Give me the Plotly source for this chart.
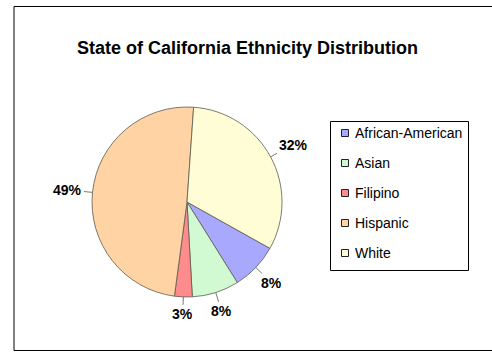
import math
import plotly.graph_objects as go

# Ethnicity shares (percent of state population)
categories = ["African-American", "Asian", "Filipino", "Hispanic", "White"]
shares = [8, 8, 3, 49, 32]
colors = ["#A8A8FF", "#D2FAD2", "#FF8C8C", "#FFD3A3", "#FFFDD6"]

title_text = "State of California Ethnicity Distribution"

# canvas and layout geometry (pixels)
W, H = 492, 352
cx, cy, r = 187, 202, 95          # pie centre / radius
white_start = 4                   # White slice begins just clockwise of 12 o'clock
label_font = dict(family="Liberation Sans, Arial, sans-serif", size=14, color="#000000", weight="bold")
legend_font = dict(family="Liberation Sans, Arial, sans-serif", size=14, color="#000000")
FONT = "Liberation Sans, Arial, sans-serif"


def px(x, y):
    """pixel position -> paper coordinates"""
    return x / W, 1 - y / H


total = sum(shares)
# slices run clockwise in legend order, ending with White
rotation = white_start + 360 * shares[-1] / total

fig = go.Figure()
fig.add_trace(go.Pie(
    labels=categories,
    values=shares,
    sort=False,
    direction="clockwise",
    rotation=rotation,
    marker=dict(colors=colors, line=dict(color="#5a5a50", width=0.8)),
    textinfo="none",
    hoverinfo="label+percent",
    showlegend=False,
    domain=dict(x=[(cx - r) / W, (cx + r) / W], y=[1 - (cy + r) / H, 1 - (cy - r) / H]),
))

annotations = []
shapes = []

# outside percentage labels with leader lines, placed along each slice's mid-angle
cum = 0
gap = 10
for cat, v in zip(categories, shares):
    mid = math.radians(rotation + 360 * (cum + v / 2) / total)
    cum += v
    txt = f"{round(100 * v / total)}%"
    w = label_font["size"] * (0.556 * (len(txt) - 1) + 0.889)
    h = label_font["size"] * 1.0
    s, c = math.sin(mid), -math.cos(mid)
    ex, ey = cx + r * s, cy + r * c
    d = r + gap + abs(w / 2 * s) + abs(h / 2 * c)
    tx, ty = cx + d * s, cy + d * c
    xp, yp = px(ex, ey)
    annotations.append(dict(
        x=xp, y=yp, xref="paper", yref="paper",
        ax=tx - ex, ay=ty - ey, text=txt, font=label_font,
        showarrow=True, arrowhead=0, arrowwidth=0.9, arrowcolor="#6b6b5a",
        standoff=0, startstandoff=0,
    ))

# title
tx_, ty_ = px(248, 48)
annotations.append(dict(x=tx_, y=ty_, xref="paper", yref="paper", text=title_text,
                        showarrow=False, xanchor="center", yanchor="middle",
                        font=dict(family=FONT, size=18, color="#000000", weight="bold")))

# outer chart frame
x0, y0 = px(14, 350.5)
x1, y1 = px(500, 6.5)
shapes.append(dict(type="rect", xref="paper", yref="paper", x0=x0, y0=y0, x1=x1, y1=y1,
                   line=dict(color="#000000", width=1), fillcolor="rgba(0,0,0,0)", layer="below"))

# legend box
lx0, ly0, lx1, ly1 = 330.5, 121.5, 468.5, 270.5
a0, b0 = px(lx0, ly1)
a1, b1 = px(lx1, ly0)
shapes.append(dict(type="rect", xref="paper", yref="paper", x0=a0, y0=b0, x1=a1, y1=b1,
                   line=dict(color="#000000", width=1), fillcolor="#ffffff", layer="below"))

row0, row_step = 133, 30
mk = 3.5
for i, (cat, col) in enumerate(zip(categories, colors)):
    yc = row0 + i * row_step
    m0 = px(345 - mk, yc + mk)
    m1 = px(345 + mk, yc - mk)
    shapes.append(dict(type="rect", xref="paper", yref="paper", x0=m0[0], y0=m0[1], x1=m1[0], y1=m1[1],
                       line=dict(color="#222222", width=1), fillcolor=col))
    lxp, lyp = px(353, yc)
    annotations.append(dict(x=lxp, y=lyp, xref="paper", yref="paper", text=cat, showarrow=False,
                            xanchor="left", yanchor="middle", font=legend_font))

fig.update_layout(
    width=W, height=H,
    margin=dict(l=0, r=0, t=0, b=0),
    paper_bgcolor="#ffffff",
    plot_bgcolor="#ffffff",
    annotations=annotations,
    shapes=shapes,
    showlegend=False,
)

fig.write_html("out.html")
